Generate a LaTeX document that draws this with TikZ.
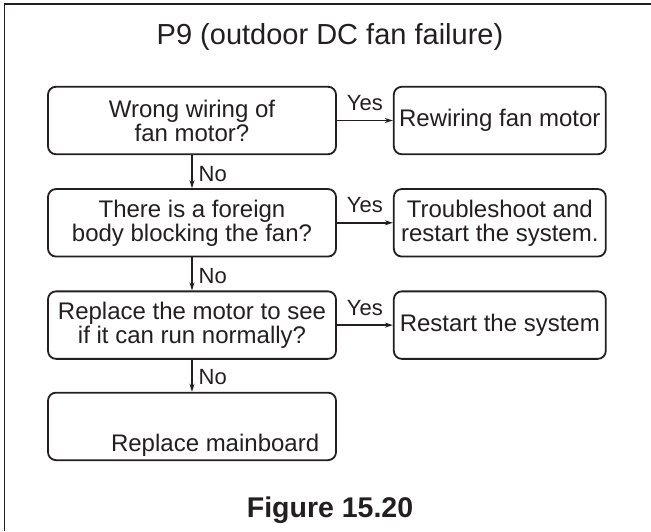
\documentclass[tikz,border=0pt]{standalone}
\usepackage{fontspec}
\setmainfont{Liberation Sans}
\usetikzlibrary{positioning,arrows.meta}
\definecolor{ink}{RGB}{35,31,32}
\begin{document}
\begin{tikzpicture}[x=1pt,y=-1pt,color=ink,>={Stealth[length=8pt,width=5pt]},line width=1.4pt,
  box/.style={draw,line width=1.8pt,rounded corners=8pt,align=center,minimum width=288pt,minimum height=67.5pt,inner sep=0pt,font=\fontsize{24}{24}\selectfont},
  endbox/.style={box,minimum width=212pt},
  lbl/.style={inner sep=0pt,font=\fontsize{22}{22}\selectfont}]
\useasboundingbox (0,0) rectangle (651,531);
\draw[line width=1.6pt] (4.5,531) -- (4.5,4) -- (651,4);
\node[anchor=base,inner sep=0pt,font=\fontsize{29}{29}\selectfont] (title) at (330,44) {P9 (outdoor DC fan failure)};
\node[box] (q1) at (192,120.5) {Wrong wiring of\\fan motor?};
\node[box,below=33pt of q1] (q2) {There is a foreign\\body blocking the fan?};
\node[box,below=33pt of q2] (q3) {Replace the motor to see\\if it can run normally?};
\node[box,below=32pt of q3] (m) {};
\node[anchor=base east,inner sep=0pt,font=\fontsize{24}{24}\selectfont] (mtxt) at ([xshift=-17pt,yshift=10pt]m.south east) {Replace mainboard};
\node[endbox,right=56pt of q1] (r1) {Rewiring fan motor};
\node[endbox,right=56pt of q2] (r2) {Troubleshoot and\\restart the system.};
\node[endbox,right=56pt of q3] (r3) {Restart the system};
% yes branches
\foreach \a/\b in {q1/r1,q2/r2,q3/r3}
  \draw[->] (\a) -- node[lbl,above=9pt] {Yes} (\b);
% no branches
\foreach \a/\b in {q1/q2,q2/q3,q3/m}
  \draw[->] (\a) -- node[lbl,pos=1,anchor=base west,xshift=6pt,yshift=7pt] {No} (\b);
\node[anchor=base,inner sep=0pt,font=\bfseries\fontsize{28.5}{29}\selectfont] (fig) at (330,517) {Figure 15.20};
\end{tikzpicture}
\end{document}
